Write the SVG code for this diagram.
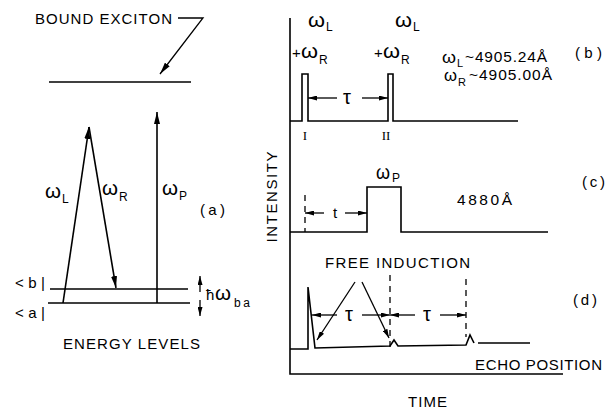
<svg xmlns="http://www.w3.org/2000/svg" width="613" height="413" viewBox="0 0 613 413">
<style>
text { font-family: "Liberation Sans", Arial, sans-serif; fill: #000; font-size: 15px; }
.w { font-size: 20px; }
.w2 { font-size: 17px; }
.s { font-size: 12px; }
.s2 { font-size: 11px; }
.n { font-size: 15.5px; }
.rn { font-family: "Liberation Serif", "Times New Roman", serif; font-size: 13px; }
.ln { stroke: #000; stroke-width: 1.6; fill: none; }
.thin { stroke: #000; stroke-width: 1.3; fill: none; }
.dash { stroke: #000; stroke-width: 1.3; fill: none; stroke-dasharray: 6 5; }
</style>
<defs>
<marker id="ah" viewBox="0 0 12 6" refX="12" refY="3" markerWidth="12" markerHeight="6" orient="auto" markerUnits="userSpaceOnUse">
<path d="M0,0 L12,3 L0,6 z" fill="#000"/>
</marker>
<marker id="as" viewBox="0 0 9 5" refX="9" refY="2.5" markerWidth="9" markerHeight="5" orient="auto" markerUnits="userSpaceOnUse">
<path d="M0,0 L9,2.5 L0,5 z" fill="#000"/>
</marker>
</defs>
<rect width="613" height="413" fill="#fff"/>

<g id="energy-levels">
<text x="35" y="24" textLength="137" lengthAdjust="spacing">BOUND EXCITON</text>
<line class="ln" x1="49" y1="82" x2="191" y2="82"/>
<line class="ln" x1="50" y1="289" x2="188" y2="289"/>
<line class="ln" x1="48" y1="303" x2="190" y2="303"/>
<text x="15" y="288" textLength="30" lengthAdjust="spacing">&lt;b|</text>
<text x="15" y="318" textLength="30" lengthAdjust="spacing">&lt;a|</text>
<text class="w" x="45" y="198" textLength="16" lengthAdjust="spacingAndGlyphs">ω</text>
<text class="s" x="62" y="203">L</text>
<text class="w" x="102" y="195" textLength="16" lengthAdjust="spacingAndGlyphs">ω</text>
<text class="s" x="119" y="201">R</text>
<text class="w" x="162" y="195" textLength="16" lengthAdjust="spacingAndGlyphs">ω</text>
<text class="s" x="179" y="200">P</text>
<text x="200" y="215" textLength="25" lengthAdjust="spacing">(a)</text>
<text x="206" y="300">ħ</text>
<text class="w" x="215" y="300" textLength="16" lengthAdjust="spacingAndGlyphs">ω</text>
<text class="s" x="234" y="307" textLength="16" lengthAdjust="spacing">ba</text>
<text x="63" y="349" textLength="137" lengthAdjust="spacing">ENERGY LEVELS</text>
</g>

<g id="axes">
<polyline class="ln" points="290,18 290,374 563,374"/>
<text transform="translate(277,197) rotate(-90)" text-anchor="middle" textLength="91" lengthAdjust="spacing">INTENSITY</text>
<text x="408" y="407" textLength="39" lengthAdjust="spacing">TIME</text>
</g>

<g id="panel-b">
<path class="ln" d="M290,121 H302 V74 H308 V121 H388 V74 H393 V121 H518"/>
<text class="w" x="308" y="27" textLength="17" lengthAdjust="spacingAndGlyphs">ω</text>
<text class="s" x="326" y="31">L</text>
<text x="292" y="58">+</text>
<text class="w" x="301" y="58" textLength="17" lengthAdjust="spacingAndGlyphs">ω</text>
<text class="s" x="319" y="64">R</text>
<text class="w" x="395" y="27" textLength="17" lengthAdjust="spacingAndGlyphs">ω</text>
<text class="s" x="413" y="31">L</text>
<text x="374" y="58">+</text>
<text class="w" x="383" y="58" textLength="17" lengthAdjust="spacingAndGlyphs">ω</text>
<text class="s" x="401" y="64">R</text>
<text class="w" x="347" y="104" text-anchor="middle">τ</text>
<text class="rn" x="305" y="140" text-anchor="middle">I</text>
<text class="rn" x="386" y="140" text-anchor="middle">II</text>
<text class="w2" x="442" y="63" textLength="14" lengthAdjust="spacingAndGlyphs">ω</text>
<text class="s2" x="457" y="67">L</text>
<text class="n" x="465" y="62" textLength="82" lengthAdjust="spacing">~4905.24Å</text>
<text class="w2" x="444" y="81" textLength="13" lengthAdjust="spacingAndGlyphs">ω</text>
<text class="s2" x="458" y="86">R</text>
<text class="n" x="469" y="80" textLength="83" lengthAdjust="spacing">~4905.00Å</text>
<text x="575" y="58" textLength="27" lengthAdjust="spacing">(b)</text>
</g>

<g id="panel-c">
<path class="ln" d="M290,232 H367 V187 H401 V232 H548"/>
<text class="w" x="376" y="179" textLength="14" lengthAdjust="spacingAndGlyphs">ω</text>
<text class="s" x="392" y="182">P</text>
<text x="335" y="218" text-anchor="middle">t</text>
<text class="n" x="457" y="205" textLength="55" lengthAdjust="spacing">4880Å</text>
<text x="582" y="187" textLength="23" lengthAdjust="spacing">(c)</text>
</g>

<g id="panel-d">
<path class="ln" d="M290,349 H308 L308,287 L315,348 L390,346 L394,340 L398,346 L466,345 L470,335 L474,343 M478,343 H530"/>
<text x="325" y="268" textLength="145" lengthAdjust="spacing">FREE INDUCTION</text>
<text class="w" x="349" y="321" text-anchor="middle">τ</text>
<text class="w" x="427" y="321" text-anchor="middle">τ</text>
<text x="573" y="305" textLength="24" lengthAdjust="spacing">(d)</text>
<text x="475" y="370" textLength="127" lengthAdjust="spacing">ECHO POSITION</text>
</g>

<g id="connectors">
<polyline class="thin" points="178,18 203,18 160,74" marker-end="url(#ah)"/>
<line class="ln" x1="63" y1="303" x2="89" y2="127" marker-end="url(#ah)"/>
<line class="ln" x1="89" y1="127" x2="116" y2="288" marker-end="url(#ah)"/>
<line class="ln" x1="157" y1="303" x2="157" y2="112" marker-end="url(#ah)"/>
<line class="thin" x1="200" y1="292" x2="200" y2="276" marker-end="url(#as)"/>
<line class="thin" x1="200" y1="300" x2="200" y2="316" marker-end="url(#as)"/>
<line class="thin" x1="337" y1="98" x2="308" y2="98" marker-end="url(#as)"/>
<line class="thin" x1="362" y1="98" x2="388" y2="98" marker-end="url(#as)"/>
<line class="dash" x1="305" y1="195" x2="305" y2="232"/>
<line class="thin" x1="324" y1="213" x2="305" y2="213" marker-end="url(#as)"/>
<line class="thin" x1="345" y1="213" x2="367" y2="213" marker-end="url(#as)"/>
<line class="dash" x1="390" y1="275" x2="390" y2="347"/>
<line class="dash" x1="466" y1="279" x2="466" y2="337"/>
<line class="thin" x1="337" y1="315" x2="312" y2="315" marker-end="url(#as)"/>
<line class="thin" x1="362" y1="315" x2="390" y2="315" marker-end="url(#as)"/>
<line class="thin" x1="415" y1="315" x2="390" y2="315" marker-end="url(#as)"/>
<line class="thin" x1="440" y1="315" x2="466" y2="315" marker-end="url(#as)"/>
<line class="thin" x1="355" y1="282" x2="317" y2="340" marker-end="url(#as)"/>
<line class="thin" x1="362" y1="282" x2="389" y2="338" marker-end="url(#as)"/>
</g>
</svg>
